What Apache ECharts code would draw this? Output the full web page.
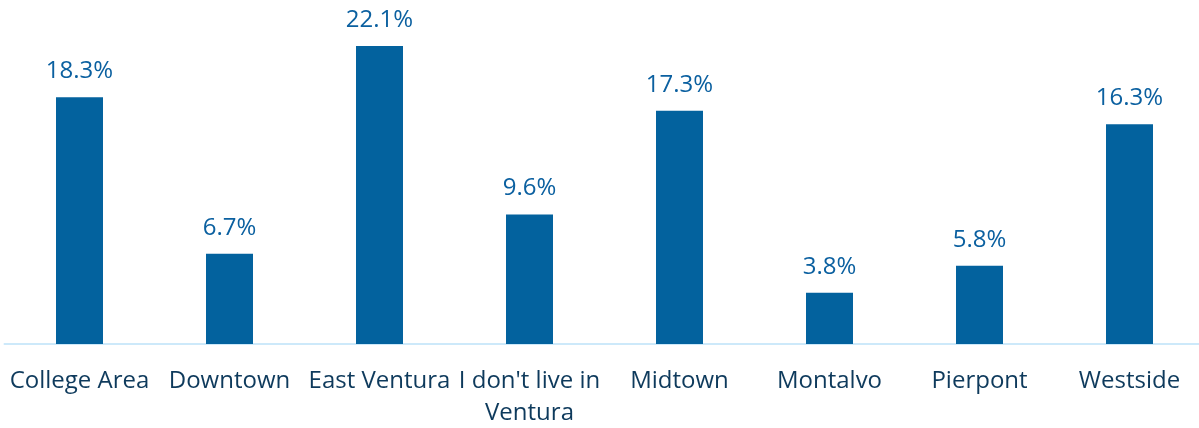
<!DOCTYPE html>
<html>
<head>
<meta charset="utf-8">
<script src="https://cdn.jsdelivr.net/npm/echarts@6/dist/echarts.min.js"></script>
<style>
html,body{margin:0;padding:0;background:#fff;}
#chart{width:1199px;height:428px;}
</style>
</head>
<body>
<div id="chart"></div>
<script>
// Neighborhood of residence, share of respondents (%)
const categories = ["College Area", "Downtown", "East Ventura", "I don't live in\nVentura", "Midtown", "Montalvo", "Pierpont", "Westside"];
const shares = [18.3, 6.7, 22.1, 9.6, 17.3, 3.8, 5.8, 16.3];

const chart = echarts.init(document.getElementById('chart'));
chart.setOption({
  animation: false,
  grid: { left: 4.5, right: -5.5, top: 7, bottom: 84, containLabel: false, outerBoundsMode: 'none' },
  xAxis: {
    type: 'category',
    data: categories,
    axisLine: { show: true, lineStyle: { color: '#cde9fa', width: 2 } },
    axisTick: { show: false },
    axisLabel: {
      interval: 0,
      hideOverlap: false,
      margin: 21,
      color: '#0e3a5c',
      fontFamily: 'Open Sans',
      fontSize: 24,
      lineHeight: 32
    }
  },
  yAxis: {
    type: 'value',
    min: 0,
    max: 25,
    show: false,
    splitLine: { show: false }
  },
  series: [{
    type: 'bar',
    data: shares,
    barWidth: 47,
    itemStyle: { color: '#03629e' },
    label: {
      show: true,
      position: 'top',
      distance: 14,
      color: '#0b60a0',
      fontFamily: 'Open Sans',
      fontSize: 24,
      formatter: p => p.value.toFixed(1) + '%'
    }
  }]
});
</script>
</body>
</html>
